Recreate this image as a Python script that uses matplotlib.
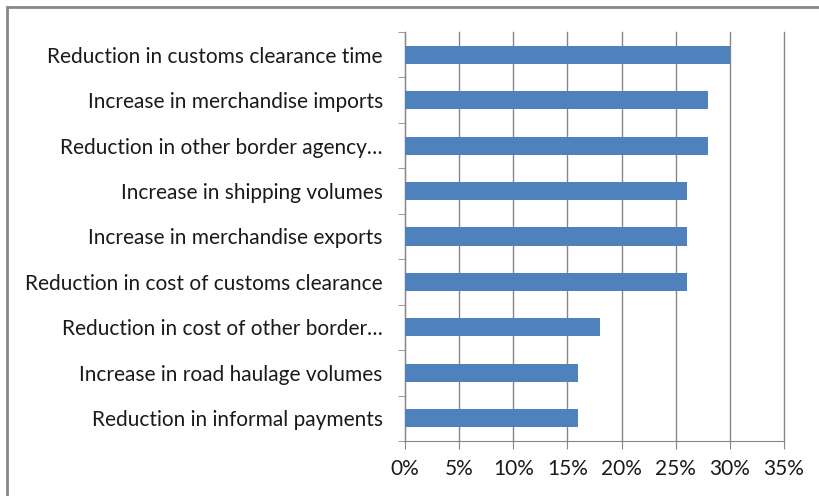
import matplotlib.pyplot as plt
from matplotlib.patches import Rectangle
from matplotlib.ticker import FuncFormatter, FixedLocator
import numpy as np

labels = [
    'Reduction in customs clearance time',
    'Increase in merchandise imports',
    'Reduction in other border agency…',
    'Increase in shipping volumes',
    'Increase in merchandise exports',
    'Reduction in cost of customs clearance',
    'Reduction in cost of other border…',
    'Increase in road haulage volumes',
    'Reduction in informal payments',
]
values = [0.30, 0.28, 0.28, 0.26, 0.26, 0.26, 0.18, 0.16, 0.16]

plt.rcParams['font.family'] = ['Lato', 'DejaVu Sans']

W, H = 819, 496
fig = plt.figure(figsize=(W / 100, H / 100), dpi=100)
ax = fig.add_axes([405 / W, 1 - 441 / H, (784 - 405) / W, (441 - 32) / H])

# outer chart frame
fig.patches.append(Rectangle((7 / W, -0.1), 1.2, 1 - 7 / H + 0.1, transform=fig.transFigure,
                             fill=False, edgecolor='#878787', linewidth=2))

n = len(labels)
y = np.arange(n)[::-1]
ax.barh(y, values, height=0.4, color='#4F81BD', zorder=3)

ax.set_xlim(0, 0.35)
ax.set_ylim(-0.5, n - 0.5)
ax.set_xticks(np.arange(0, 0.351, 0.05))
ax.xaxis.set_major_formatter(FuncFormatter(lambda v, p: f'{round(v * 100)}%'))
ax.grid(axis='x', color='#868686', linewidth=1, zorder=0)
for gl in ax.get_xgridlines():
    gl.set_clip_on(False)

ax.set_yticks(y)
ax.set_yticklabels(labels)
ax.yaxis.set_minor_locator(FixedLocator(np.arange(-0.5, n, 1.0)))
ax.tick_params(axis='y', which='major', length=0, pad=16, labelsize=15, colors='#1a1a1a')
ax.tick_params(axis='y', which='minor', length=5, color='#868686')
ax.tick_params(axis='x', length=6, color='#868686', labelsize=15, pad=7, colors='#1a1a1a')
ax.tick_params(axis='x', color='#868686')

for s in ['top', 'right']:
    ax.spines[s].set_visible(False)
for s in ['left', 'bottom']:
    ax.spines[s].set_color('#868686')

fig.savefig('out.png', dpi=100)
